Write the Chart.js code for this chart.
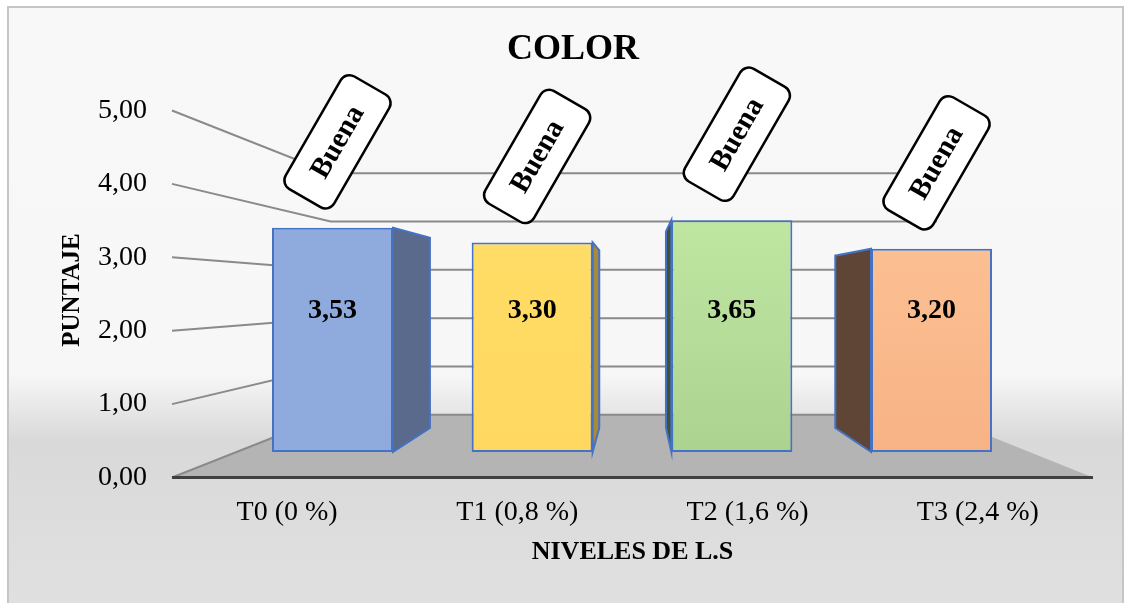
<!DOCTYPE html>
<html>
<head>
<meta charset="utf-8">
<script src="https://cdn.jsdelivr.net/npm/chart.js@4.4.1/dist/chart.umd.min.js"></script>
<style>
  html, body { margin: 0; padding: 0; background: #fff; }
</style>
</head>
<body>
<canvas id="grafico" width="1132" height="603"></canvas>
<script>
// ── Datos ──
const categorias   = ['T0 (0 %)', 'T1 (0,8 %)', 'T2 (1,6 %)', 'T3 (2,4 %)'];
const puntajes     = [3.53, 3.30, 3.65, 3.20];
const calificacion = ['Buena', 'Buena', 'Buena', 'Buena'];
const ticksPuntaje = [0, 1, 2, 3, 4, 5];
const titulo = 'COLOR';

// ── Estilo ──
const SERIF = "'Times New Roman', 'Liberation Serif', serif";
const colorArriba = ['#8faadc', '#ffe06a', '#caf0aa', '#ffc89b'];
const colorAbajo  = ['#8faadc', '#ffd75f', '#a9d18e', '#f7b183'];
const colorLado   = ['#5a6a8c', '#a68b3a', '#3f5139', '#5e4535'];
const BORDE_BARRA = '#4472c4';

// perspectiva aproximada del grafico 3D de Excel
const FUGA = { x: 636, y: 294 };
const PROF_BARRA = 0.848;
const PROF_PARED = 0.658;
const alFondo = (x, y, s) => [FUGA.x + s * (x - FUGA.x), FUGA.y + s * (y - FUGA.y)];

const fmt = v => v.toFixed(2).replace('.', ',');

function gradiente(ctx, i) {
  const { chart } = ctx;
  if (!chart.chartArea) return colorAbajo[i];
  const el = chart.getDatasetMeta(0).data[i];
  const top = el && isFinite(el.y) ? el.y : chart.chartArea.top;
  const base = el && isFinite(el.base) ? el.base : chart.chartArea.bottom;
  const g = chart.ctx.createLinearGradient(0, top, 0, base);
  g.addColorStop(0, colorArriba[i]);
  g.addColorStop(1, colorAbajo[i]);
  return g;
}

const escena3D = {
  id: 'escena3D',
  beforeDraw(chart) {
    const { ctx, width, height } = chart;
    ctx.save();
    ctx.fillStyle = '#ffffff';
    ctx.fillRect(0, 0, width, height);
    const g = ctx.createLinearGradient(0, 0, 0, height);
    g.addColorStop(0, '#f8f8f8');
    g.addColorStop(0.62, '#f7f7f7');
    g.addColorStop(0.73, '#d9d9d9');
    g.addColorStop(1, '#e0e0e0');
    ctx.fillStyle = g;
    ctx.fillRect(8, 7, 1115, height);
    ctx.strokeStyle = '#c6c6c6';
    ctx.lineWidth = 2;
    ctx.strokeRect(8, 7, 1115, height + 10);

    // titulo
    ctx.fillStyle = '#000';
    ctx.font = 'bold 36px ' + SERIF;
    ctx.textAlign = 'center';
    ctx.textBaseline = 'middle';
    ctx.fillText(titulo, 573, 50);
    ctx.restore();
  },
  beforeDatasetsDraw(chart) {
    const { ctx, chartArea: ca } = chart;
    const yl = chart.scales.yl;
    const y0 = yl.getPixelForValue(0);
    ctx.save();

    // piso
    const bl = alFondo(ca.left, y0, PROF_PARED);
    const br = alFondo(ca.right, y0, PROF_PARED);
    ctx.fillStyle = '#b4b4b4';
    ctx.beginPath();
    ctx.moveTo(ca.left, y0);
    ctx.lineTo(bl[0], bl[1]);
    ctx.lineTo(br[0], br[1]);
    ctx.lineTo(ca.right, y0);
    ctx.closePath();
    ctx.fill();

    // lineas de division (pared lateral + pared del fondo)
    ctx.strokeStyle = '#8a8a8a';
    ctx.lineWidth = 2;
    ticksPuntaje.forEach(v => {
      const p = yl.getPixelForValue(v);
      const a = alFondo(ca.left, p, PROF_PARED);
      const b = alFondo(ca.right, p, PROF_PARED);
      ctx.beginPath();
      ctx.moveTo(ca.left, p);
      ctx.lineTo(a[0], a[1]);
      ctx.lineTo(b[0], a[1]);
      ctx.stroke();
    });

    // borde frontal del piso
    ctx.strokeStyle = '#404040';
    ctx.lineWidth = 3;
    ctx.beginPath();
    ctx.moveTo(ca.left, y0);
    ctx.lineTo(ca.right, y0);
    ctx.stroke();

    // caras laterales de las barras
    chart.getDatasetMeta(0).data.forEach((el, i) => {
      const w = el.width / 2;
      const ex = el.x < FUGA.x ? el.x + w : el.x - w;
      const t = alFondo(ex, el.y, PROF_BARRA);
      const b = alFondo(ex, el.base, PROF_BARRA);
      ctx.fillStyle = colorLado[i];
      ctx.strokeStyle = BORDE_BARRA;
      ctx.lineWidth = 2;
      ctx.beginPath();
      ctx.moveTo(ex, el.y);
      ctx.lineTo(t[0], t[1]);
      ctx.lineTo(b[0], b[1]);
      ctx.lineTo(ex, el.base);
      ctx.closePath();
      ctx.fill();
      ctx.stroke();
    });
    ctx.restore();
  },
  afterDatasetsDraw(chart) {
    const { ctx } = chart;
    ctx.save();
    chart.getDatasetMeta(0).data.forEach((el, i) => {
      // valor
      ctx.fillStyle = '#000';
      ctx.font = 'bold 28px ' + SERIF;
      ctx.textAlign = 'center';
      ctx.textBaseline = 'middle';
      ctx.fillText(fmt(puntajes[i]), el.x, el.base - 141);

      // etiqueta rotada
      ctx.save();
      ctx.translate(el.x + 5, el.y - 86);
      ctx.rotate(-60 * Math.PI / 180);
      ctx.beginPath();
      ctx.roundRect(-65, -28, 130, 56, 10);
      ctx.fillStyle = '#ffffff';
      ctx.fill();
      ctx.strokeStyle = '#000000';
      ctx.lineWidth = 2.5;
      ctx.stroke();
      ctx.fillStyle = '#000';
      ctx.font = 'bold 29px ' + SERIF;
      ctx.fillText(calificacion[i], 0, 1);
      ctx.restore();
    });
    ctx.restore();
  }
};

new Chart(document.getElementById('grafico'), {
  type: 'bar',
  data: {
    labels: categorias,
    datasets: [{
      label: titulo,
      data: puntajes.map((v, i) => ({ x: i, y: v })),
      xAxisID: 'xb',
      yAxisID: 'y',
      backgroundColor: ctx => gradiente(ctx, ctx.dataIndex),
      borderColor: BORDE_BARRA,
      borderWidth: 2,
      borderSkipped: false,
      barPercentage: 0.606,
      categoryPercentage: 1
    }]
  },
  options: {
    responsive: false,
    devicePixelRatio: 1,
    animation: false,
    layout: { padding: { left: 0, right: 39, top: 100, bottom: 0 } },
    plugins: {
      legend: { display: false },
      tooltip: { enabled: false },
      title: { display: false }
    },
    scales: {
      x: {
        type: 'category',
        position: 'bottom',
        offset: true,
        grid: { display: false, drawTicks: false },
        border: { display: false },
        ticks: { color: '#000', font: { family: SERIF, size: 28 }, padding: 16, maxRotation: 0 },
        title: {
          display: true,
          text: 'NIVELES DE L.S',
          color: '#000',
          font: { family: SERIF, size: 26, weight: 'bold' },
          padding: { top: 0, bottom: 35 }
        },
        afterFit: s => { s.height = 123; }
      },
      xb: {
        type: 'linear',
        display: false,
        offset: false,
        grid: { offset: false },
        min: -0.8037,
        max: 3.8087,
        afterBuildTicks: s => { s.ticks = categorias.map((c, i) => ({ value: i })); }
      },
      yl: {
        type: 'linear',
        position: 'left',
        min: -0.034,
        max: 5.143,
        grid: { display: false, drawTicks: false },
        border: { display: false },
        afterBuildTicks: s => { s.ticks = ticksPuntaje.map(v => ({ value: v })); },
        ticks: {
          color: '#000',
          font: { family: SERIF, size: 28 },
          padding: 25,
          callback: v => fmt(v)
        },
        title: {
          display: true,
          text: 'PUNTAJE',
          color: '#000',
          font: { family: SERIF, size: 25, weight: 'bold' },
          padding: { top: 58, bottom: 0 }
        },
        afterFit: s => { s.width = 172; }
      },
      y: {
        type: 'linear',
        display: false,
        min: -0.441,
        max: 5.543
      }
    }
  },
  plugins: [escena3D]
});
</script>
</body>
</html>
